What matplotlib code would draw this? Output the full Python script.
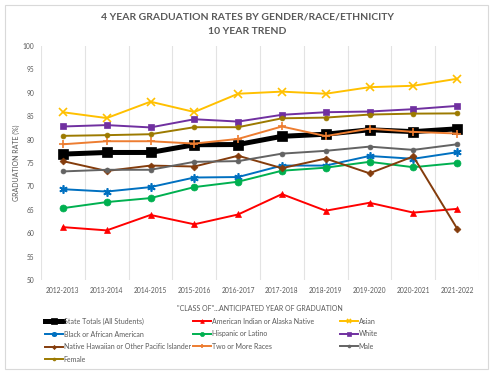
import numpy as np
import matplotlib
matplotlib.use('Agg')
import matplotlib.pyplot as plt
from matplotlib.patches import Rectangle

plt.rcParams['font.family'] = ['Lato', 'DejaVu Sans']

years = ['2012-2013', '2013-2014', '2014-2015', '2015-2016', '2016-2017',
         '2017-2018', '2018-2019', '2019-2020', '2020-2021', '2021-2022']

state_totals = [76.9, 77.25, 77.25, 78.9, 78.95, 80.7, 81.15, 82.1, 81.7, 82.3]
american_indian = [61.3, 60.6, 63.9, 61.9, 64.0, 68.35, 64.8, 66.5, 64.4, 65.2]
asian = [85.85, 84.6, 88.1, 85.9, 89.8, 90.25, 89.8, 91.2, 91.5, 93.0]
black = [69.4, 68.9, 69.85, 71.9, 72.0, 74.45, 74.45, 76.5, 75.9, 77.3]
hispanic = [65.35, 66.65, 67.5, 69.85, 71.0, 73.35, 74.0, 75.25, 74.1, 75.0]
white = [82.8, 83.1, 82.6, 84.35, 83.85, 85.3, 85.85, 86.0, 86.5, 87.2]
native_hawaiian = [75.4, 73.3, 74.45, 74.25, 76.55, 73.9, 75.95, 72.8, 76.4, 61.0]
two_or_more = [79.0, 79.65, 79.65, 79.15, 80.15, 82.8, 80.75, 82.35, 81.65, 81.3]
male = [73.2, 73.55, 73.55, 75.25, 75.4, 77.0, 77.6, 78.5, 77.8, 79.0]
female = [80.8, 80.95, 81.15, 82.65, 82.65, 84.55, 84.7, 85.35, 85.55, 85.6]

# name, values, color, marker, markersize, linewidth
series = [
    ('State Totals (All Students)', state_totals, '#000000', 's', 7, 3.6),
    ('American Indian or Alaska Native', american_indian, '#FF0000', '^', 4.5, 1.4),
    ('Asian', asian, '#FFC000', 'x', 5.5, 1.4),
    ('Black or African American', black, '#0070C0', (6, 2, 0), 6, 1.4),
    ('Hispanic or Latino', hispanic, '#00B050', 'o', 5, 1.4),
    ('White', white, '#7030A0', 's', 5, 1.4),
    ('Native Hawaiian or Other Pacific Islander', native_hawaiian, '#843C0C', 'D', 3.5, 1.4),
    ('Two or More Races', two_or_more, '#ED7D31', '+', 6, 1.4),
    ('Male', male, '#636363', 'o', 3.5, 1.4),
    ('Female', female, '#9C7A00', 'o', 3.5, 1.4),
]

fig = plt.figure(figsize=(4.94, 3.72), dpi=100)
fig.patches.append(Rectangle((5 / 494, 3 / 372), 483 / 494, 364 / 372,
                             transform=fig.transFigure, fill=False,
                             edgecolor='#D9D9D9', linewidth=0.8))

ax = fig.add_axes([41 / 494, 1 - 280 / 372, 438 / 494, 234 / 372])
x = np.arange(len(years))

handles = {}
for name, vals, color, marker, ms, lw in series:
    mew = 1.2 if marker in ('x', '+', (6, 2, 0)) else 0.5
    h, = ax.plot(x, vals, color=color, linewidth=lw, marker=marker,
                 markersize=ms, markeredgewidth=mew, label=name)
    handles[name] = h

ax.set_xlim(-0.5, len(years) - 0.5)
ax.set_ylim(50, 100)
ax.set_yticks(np.arange(50, 101, 5))
ax.set_xticks(x)
ax.set_xticklabels(years)
for b in np.arange(-0.5, len(years), 1):
    ax.axvline(b, color='#E3E3E3', linewidth=0.8, zorder=0)
for s in ax.spines.values():
    s.set_visible(False)
ax.tick_params(length=0, labelsize=4.8, labelcolor='#595959', pad=5)

ax.set_ylabel('GRADUATION RATE (%)', fontsize=5.0, color='#595959', labelpad=2)
ax.set_xlabel('"CLASS OF"...ANTICIPATED YEAR OF GRADUATION', fontsize=5.0,
              color='#595959', labelpad=8)

fig.text(0.5, 1 - 17 / 372, '4 YEAR GRADUATION RATES BY GENDER/RACE/ETHNICITY',
         ha='center', va='center', fontsize=7.5, fontweight='bold', color='#595959')
fig.text(0.5, 1 - 32 / 372, '10 YEAR TREND',
         ha='center', va='center', fontsize=7.5, fontweight='bold', color='#595959')

columns = [
    (['State Totals (All Students)', 'Black or African American',
      'Native Hawaiian or Other Pacific Islander', 'Female'], 42),
    (['American Indian or Alaska Native', 'Hispanic or Latino', 'Two or More Races'], 190),
    (['Asian', 'White', 'Male'], 337),
]
for names, xpos in columns:
    leg = fig.legend([handles[n] for n in names], names, ncol=1,
                     loc='upper left', bbox_to_anchor=(xpos / 494, 1 - 315 / 372),
                     frameon=False, fontsize=5.0, handlelength=2.6, handletextpad=0.1,
                     labelspacing=0.8, markerscale=0.6, borderaxespad=0)
    for t in leg.get_texts():
        t.set_color('#595959')

fig.savefig('out.png', dpi=100)
